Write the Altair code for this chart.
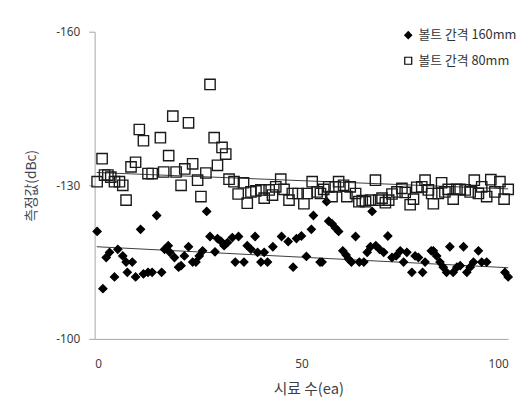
import altair as alt
import pandas as pd

S1 = "볼트 간격 160mm"
S2 = "볼트 간격 80mm"

x160 = [0.6, 2.0, 2.8, 3.6, 4.8, 5.6, 6.8, 7.6, 7.9, 9.1, 9.9, 11.1, 11.8, 12.9, 13.9,
        15.0, 16.2, 16.9, 17.8, 18.2, 19.3, 20.3, 20.9, 21.7, 22.7, 23.7, 24.5, 25.3,
        26.1, 27.1, 27.9, 29.1, 29.7, 30.5, 31.3, 32.1, 33.3, 34.0, 34.8, 36.1, 36.9,
        37.8, 38.8, 39.4, 40.2, 41.0, 41.8, 43.1, 45.2, 46.8, 48.0, 48.8, 50.0, 51.2,
        52.4, 52.9, 54.5, 55.0, 56.1, 56.6, 57.4, 58.2, 59.0, 60.0, 60.8, 61.4, 62.1,
        63.1, 64.0, 65.1, 65.9, 66.7, 67.1, 68.0, 68.9, 69.9, 70.9, 71.9, 72.9, 73.9,
        74.7, 75.5, 76.7, 77.5, 78.3, 79.3, 79.9, 81.4, 81.9, 82.7, 83.5, 84.3, 85.1,
        85.9, 86.7, 87.6, 88.4, 89.2, 90.0, 90.8, 91.6, 92.8, 93.6, 94.8, 99.2, 100.0]
y160 = [-121.0, -109.8, -115.9, -116.9, -112.1, -117.5, -116.2, -115.0, -113.0, -115.0,
        -112.1, -121.4, -112.7, -113.0, -113.0, -124.1, -113.0, -117.5, -118.2, -116.9,
        -115.9, -114.0, -114.3, -116.2, -118.0, -115.0, -115.0, -116.2, -117.2, -124.9,
        -120.0, -117.0, -119.6, -119.1, -118.2, -118.8, -119.8, -115.0, -120.0, -115.0,
        -118.2, -117.5, -120.0, -116.9, -115.0, -116.9, -115.0, -118.0, -120.0, -119.0,
        -114.0, -119.6, -120.1, -116.1, -121.4, -124.1, -115.0, -115.0, -126.8, -123.0,
        -122.5, -121.7, -121.0, -117.2, -116.4, -115.6, -115.0, -120.0, -115.0, -115.0,
        -116.9, -118.0, -124.9, -118.2, -117.5, -116.9, -120.1, -115.9, -116.2, -117.2,
        -115.0, -116.9, -113.0, -116.2, -115.9, -113.0, -115.0, -117.2, -117.2, -116.2,
        -115.0, -114.0, -113.0, -118.0, -113.0, -114.0, -114.3, -118.0, -113.0, -114.0,
        -115.0, -117.2, -115.0, -115.0, -113.0, -112.1]

x80 = [0.6, 1.8, 2.4, 3.2, 3.9, 4.8, 6.0, 6.8, 7.6, 8.8, 9.9, 10.8, 11.8, 12.9, 13.9,
       15.9, 16.7, 17.9, 18.9, 19.7, 20.9, 21.8, 22.7, 23.7, 24.9, 25.7, 26.9, 27.9,
       28.9, 29.7, 30.8, 31.7, 32.5, 33.7, 34.7, 36.0, 36.9, 37.8, 39.0, 40.2, 41.0,
       42.2, 43.0, 43.8, 45.0, 45.8, 47.0, 47.8, 49.2, 50.6, 51.4, 52.6, 53.8, 54.6,
       55.4, 56.6, 57.4, 58.2, 59.0, 60.2, 61.0, 61.8, 63.1, 63.9, 64.7, 65.5, 66.7,
       67.9, 68.7, 69.5, 70.3, 71.1, 71.9, 73.1, 74.3, 75.1, 76.3, 77.1, 77.9, 79.1,
       79.9, 80.7, 81.5, 81.9, 83.1, 83.9, 84.7, 85.5, 86.7, 87.6, 88.4, 89.6, 90.8,
       91.8, 92.8, 93.6, 94.8, 95.8, 96.8, 98.0, 99.0, 100.0]
y80 = [-130.7, -135.2, -132.0, -132.0, -131.6, -130.7, -130.7, -130.0, -127.1, -133.6,
       -134.5, -140.9, -138.7, -132.3, -132.3, -139.3, -132.6, -135.8, -143.5, -132.6,
       -130.0, -133.2, -142.2, -134.2, -131.0, -127.8, -132.4, -149.7, -139.3, -133.9,
       -137.4, -136.1, -131.2, -130.7, -128.3, -130.5, -126.5, -128.7, -128.9, -129.1,
       -127.5, -129.1, -128.1, -129.7, -131.2, -129.2, -127.1, -128.4, -128.4, -126.4,
       -128.4, -130.7, -128.7, -128.4, -129.2, -129.7, -127.8, -129.7, -130.7, -130.0,
       -127.8, -129.7, -128.4, -126.8, -127.0, -126.8, -127.1, -131.0, -127.1, -127.5,
       -126.6, -127.1, -128.3, -128.7, -129.4, -128.6, -126.2, -127.3, -129.6, -129.7,
       -131.0, -129.1, -128.4, -126.4, -128.4, -130.5, -128.7, -129.2, -127.3, -129.2,
       -129.2, -129.1, -128.7, -131.0, -128.4, -129.7, -127.8, -131.1, -128.7, -130.7,
       -127.3, -129.2]

# trend lines (start / end)
trend_x = [0.5, 100.0]
trend160 = [-118.0, -113.9]
trend80 = [-132.5, -129.3]

x_ticks = [0, 50, 100]
y_ticks = [-160, -130, -100]

df160 = pd.DataFrame({"x": x160, "v": y160, "series": S1})
df80 = pd.DataFrame({"x": x80, "v": y80, "series": S2})

df_trend = pd.concat([
    pd.DataFrame({"x": trend_x, "v": trend160, "series": S1}),
    pd.DataFrame({"x": trend_x, "v": trend80, "series": S2}),
], ignore_index=True)

names = [S1, S2]

xenc = alt.X("x:Q", scale=alt.Scale(domain=[0, 100], nice=False),
             axis=alt.Axis(values=x_ticks, title="시료 수(ea)", grid=False, ticks=False,
                           labelPadding=20, domainColor="#a6a6a6", labelFontSize=12,
                           labelColor="#404040", labelFont="Noto Sans",
                           titleFont="Noto Sans CJK KR", titleFontSize=15,
                           titleFontWeight="normal", titleColor="#404040",
                           titleX=217, titleY=50, titleAlign="center",
                           titleBaseline="middle"))
yenc = alt.Y("v:Q", scale=alt.Scale(domain=[-160, -100], reverse=True, nice=False),
             axis=alt.Axis(values=y_ticks, title="측정값(dBc)", grid=False, tickSize=6,
                           labelExpr="'' + datum.value",
                           tickColor="#a6a6a6", domainColor="#a6a6a6", labelPadding=9,
                           labelFontSize=12, labelColor="#404040", labelFont="Noto Sans",
                           titleFont="Noto Sans CJK KR", titleFontSize=14,
                           titleFontWeight="normal", titleColor="#404858",
                           titleAngle=-90, titleX=-64, titleY=156,
                           titleAlign="center", titleBaseline="middle"))

trend = alt.Chart(df_trend).mark_line(color="#3c3c3c", strokeWidth=1).encode(
    x=xenc, y=yenc, detail="series:N"
)

leg = alt.Legend(title=None, orient="none", legendX=312, legendY=-3, padding=0,
                 symbolSize=50, symbolStrokeWidth=1.2, rowPadding=12, labelOffset=4,
                 labelFont="Noto Sans CJK KR", labelFontSize=13, labelColor="#333333",
                 labelLimit=200)

shape_enc = alt.Shape("series:N", scale=alt.Scale(domain=names, range=["diamond", "square"]),
                      legend=leg)
fill_enc = alt.Fill("series:N", scale=alt.Scale(domain=names, range=["#000000", "transparent"]),
                    legend=leg)

diamonds = alt.Chart(df160).mark_point(opacity=1, strokeWidth=1.2, stroke="#000000",
                                       size=68).encode(
    x=xenc, y=yenc, shape=shape_enc, fill=fill_enc)
squares = alt.Chart(df80).mark_point(opacity=1, strokeWidth=1.4, stroke="#1a1a1a",
                                     size=110).encode(
    x=xenc, y=yenc, shape=shape_enc, fill=fill_enc)

chart = alt.layer(trend, diamonds, squares).properties(
    width=420, height=312,
    padding={"left": 88, "top": 21, "right": 12, "bottom": 60},
    autosize=alt.AutoSizeParams(type="none"),
).configure_view(stroke=None)

chart.save("out.html", embed_options={"renderer": "svg", "actions": False})
